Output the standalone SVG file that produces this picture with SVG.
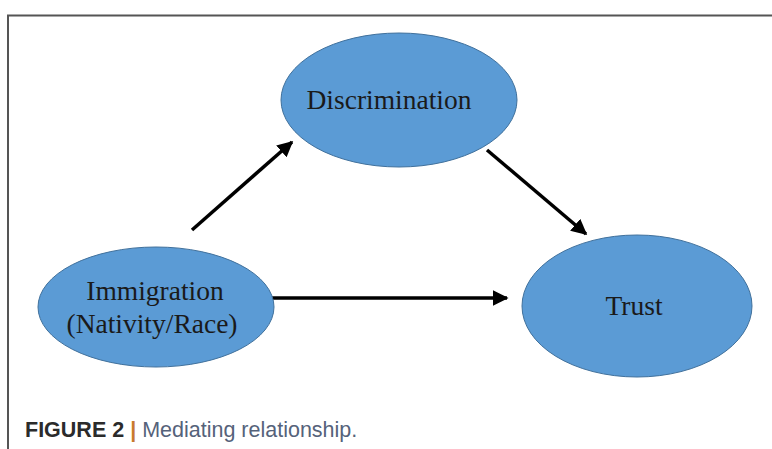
<svg xmlns="http://www.w3.org/2000/svg" width="772" height="449" viewBox="0 0 772 449">
<style>
.node ellipse{fill:#5b9bd5;stroke:#41719c;stroke-width:1}
.node text{font-family:"Liberation Serif",serif;font-size:27.5px;fill:#1a1a1a;text-anchor:middle}
.conn line{stroke:#000;stroke-width:3.5}
.cap{font-family:"Liberation Sans",Arial,sans-serif;font-size:21.5px}
</style>
<defs>
<marker id="ah" viewBox="0 0 10 10" refX="9" refY="5" markerWidth="4.5" markerHeight="4.5" markerUnits="strokeWidth" orient="auto">
<path d="M0,0 L10,5 L0,10 Z" fill="#000"/>
</marker>
</defs>
<rect width="772" height="449" fill="#fff"/>
<path d="M8,449 V15.5 H772" fill="none" stroke="#555" stroke-width="2"/>
<g class="conn">
<line x1="192" y1="230" x2="292" y2="142" marker-end="url(#ah)"/>
<line x1="487" y1="150" x2="586" y2="234" marker-end="url(#ah)"/>
<line x1="271" y1="298" x2="507" y2="298" marker-end="url(#ah)"/>
</g>
<g id="discrimination" class="node">
<ellipse cx="399" cy="100" rx="118" ry="67"/>
<text x="389" y="109">Discrimination</text>
</g>
<g id="immigration" class="node">
<ellipse cx="156" cy="307" rx="118" ry="60"/>
<text x="155" y="300">Immigration</text>
<text x="152" y="333">(Nativity/Race)</text>
</g>
<g id="trust" class="node">
<ellipse cx="637" cy="306" rx="115" ry="71"/>
<text x="634" y="315">Trust</text>
</g>
<text class="cap" x="25" y="437"><tspan font-weight="bold" fill="#2b2b2b">FIGURE 2</tspan><tspan fill="#c87a2e" font-weight="bold"> | </tspan><tspan fill="#55627a">Mediating relationship.</tspan></text>
</svg>
